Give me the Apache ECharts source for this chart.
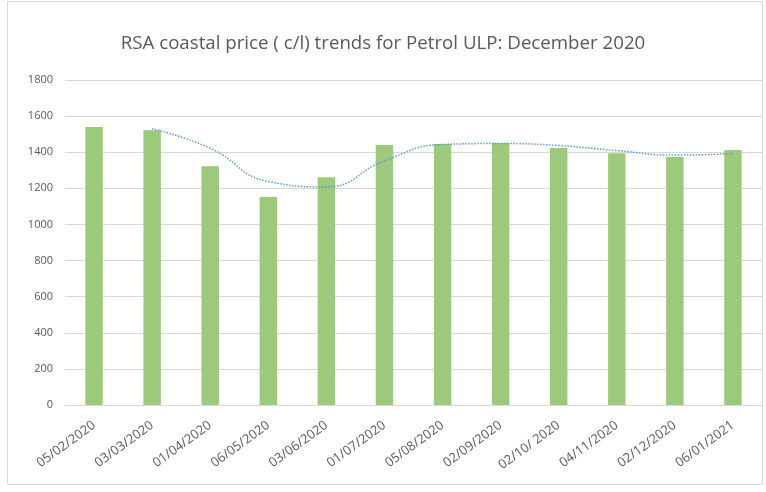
<!DOCTYPE html>
<html><head><meta charset="utf-8">
<script src="https://cdn.jsdelivr.net/npm/echarts@6/dist/echarts.min.js"></script>
<style>html,body{margin:0;padding:0;background:#fff}#c{width:766px;height:492px}</style>
</head><body><div id="c"></div>
<script>
const categories = ["05/02/2020","03/03/2020","01/04/2020","06/05/2020","03/06/2020","01/07/2020","05/08/2020","02/09/2020","02/10/ 2020","04/11/2020","02/12/2020","06/01/2021"];
const prices = [1540, 1522, 1323, 1152, 1262, 1440, 1445, 1451, 1423, 1395, 1373, 1412];
const trend = [null, 1530, 1422, 1238, 1208, 1352, 1443, 1448, 1437, 1409, 1384, 1393];
const yTicks = {min: 0, max: 1800, interval: 200};

const chart = echarts.init(document.getElementById('c'));
chart.setOption({
  animation: false,
  title: {text: 'RSA coastal price ( c/l) trends for Petrol ULP: December 2020', left: 'center', top: 29,
    textStyle: {fontFamily: 'Open Sans', fontSize: 18.7, fontWeight: 'normal', color: '#595959'}},
  graphic: [{type: 'rect', shape: {x: 7.5, y: 1.5, width: 755, height: 483}, style: {fill: 'none', stroke: '#d9d9d9', lineWidth: 1}, silent: true}],
  grid: {left: 65, right: 4, top: 80, bottom: 87},
  xAxis: {type: 'category', data: categories,
    axisLine: {lineStyle: {color: '#d9d9d9'}}, axisTick: {show: false},
    axisLabel: {rotate: 36, color: '#595959', fontFamily: 'Open Sans', fontSize: 13, interval: 0, margin: 19}},
  yAxis: {type: 'value', min: yTicks.min, max: yTicks.max, interval: yTicks.interval,
    axisLine: {show: false}, axisTick: {show: false},
    splitLine: {lineStyle: {color: '#d9d9d9'}},
    axisLabel: {color: '#595959', fontFamily: 'Open Sans', fontSize: 11, margin: 12, formatter: v => String(v)}},
  series: [
    {type: 'bar', data: prices, barWidth: '30%', itemStyle: {color: '#9dc97c'}},
    {type: 'line', data: trend, smooth: true, symbol: 'none', connectNulls: false,
      lineStyle: {color: '#5b9bd5', width: 1.5, type: 'dotted'}}
  ]
});
</script></body></html>
